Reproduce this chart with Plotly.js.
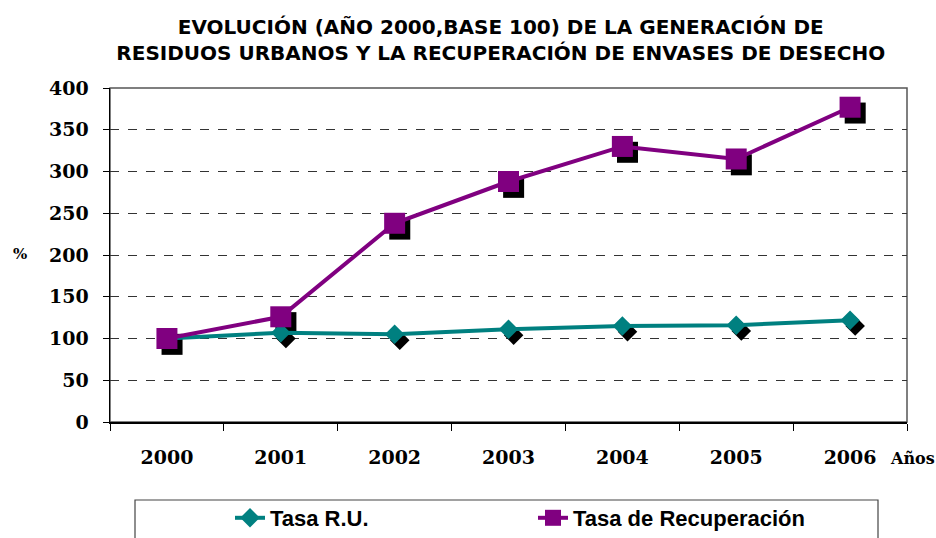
<!DOCTYPE html>
<html><head><meta charset="utf-8">
<script src="https://cdn.plot.ly/plotly-3.0.1.min.js"></script>
<style>body{margin:0;background:#fff}#c{width:936px;height:538px}</style>
</head><body><div id="c"></div>
<script>
const years = ['2000','2001','2002','2003','2004','2005','2006'];
const tasaRU = [100, 107, 105, 111, 115, 116, 122];
const tasaRecuperacion = [100, 126, 238, 288, 330, 315, 377];
const yTicks = [0, 50, 100, 150, 200, 250, 300, 350, 400];

const purple = '#800080', teal = '#008080';
// shadow offset: shadows live on the (hidden) base axes with shifted ranges,
// the visible series on the overlaying axes drawn above them
const dx = 0.045, dy = 7;

const traces = [
  {x: years, y: tasaRecuperacion, xaxis:'x', yaxis:'y', mode:'markers', showlegend:false, hoverinfo:'skip',
   marker:{symbol:'square', size:21, color:'#000'}},
  {x: years, y: tasaRU, xaxis:'x', yaxis:'y', mode:'markers', showlegend:false, hoverinfo:'skip',
   marker:{symbol:'diamond', size:15, color:'#000'}},
  {x: years, y: tasaRU, name:'Tasa R.U.', mode:'lines+markers', xaxis:'x2', yaxis:'y2',
   line:{color:teal, width:4}, marker:{symbol:'diamond', size:15, color:teal}},
  {x: years, y: tasaRecuperacion, name:'Tasa de Recuperación', mode:'lines+markers', xaxis:'x2', yaxis:'y2',
   line:{color:purple, width:4}, marker:{symbol:'square', size:21, color:purple}}
];

const px2x = 797, px2y = 334;
const tickFont = {family:'DejaVu Serif, serif', size:19, color:'#000', weight:'bold'};
const layout = {
  width:936, height:538,
  margin:{l:110, r:29, t:88, b:116, autoexpand:false},
  paper_bgcolor:'#fff', plot_bgcolor:'#fff',
  showlegend:true,
  title:{text:'EVOLUCIÓN (AÑO 2000,BASE 100) DE LA GENERACIÓN DE<br>RESIDUOS URBANOS Y LA RECUPERACIÓN DE ENVASES DE DESECHO',
    font:{family:'DejaVu Sans, sans-serif', size:20, color:'#000', weight:'bold'},
    xref:'container', yref:'container', x:0.535, xanchor:'center', y:1-34/538, yanchor:'middle'},
  xaxis:{type:'category', range:[-0.5-dx, 6.5-dx], visible:false},
  yaxis:{range:[dy, 400+dy], visible:false},
  xaxis2:{type:'category', overlaying:'x', anchor:'y2', range:[-0.5,6.5], showgrid:false, zeroline:false,
    showline:true, linecolor:'#000', linewidth:1.5, ticks:'outside', ticklen:7, tickcolor:'#000',
    tickson:'boundaries', ticklabelstandoff:18, tickfont:tickFont},
  yaxis2:{overlaying:'y', anchor:'x2', side:'left', range:[0,400], tickvals:yTicks, showgrid:true, gridcolor:'#333', griddash:'dash', gridwidth:1,
    zeroline:false, showline:true, linecolor:'#000', linewidth:1.5, ticks:'outside', ticklen:6, tickcolor:'#000',
    ticklabelstandoff:10, tickfont:tickFont},
  legend:{orientation:'h', x:(230-110)/px2x, xanchor:'left', y:-(497-422)/px2y, yanchor:'top', entrywidth:258,
    bgcolor:'rgba(0,0,0,0)', borderwidth:0,
    font:{family:'Liberation Sans, sans-serif', size:22, color:'#000', weight:'bold'}},
  shapes:[
    {type:'rect', xref:'paper', yref:'paper', x0:0, x1:1, y0:0, y1:1, line:{color:'#555', width:1.5}, layer:'below'},
    {type:'rect', xref:'paper', yref:'paper', x0:(135-110)/px2x, x1:(878-110)/px2x, y0:-(500-422)/px2y, y1:-0.5,
     line:{color:'#444', width:1.2}, fillcolor:'rgba(0,0,0,0)'}
  ],
  annotations:[
    {text:'%', xref:'paper', yref:'paper', x:-(110-20)/px2x, y:(422-254)/px2y, xanchor:'center', yanchor:'middle', showarrow:false,
     font:{family:'DejaVu Serif, serif', size:15, color:'#000', weight:'bold'}},
    {text:'Años', xref:'paper', yref:'paper', x:(888-110)/px2x, y:-(458-422)/px2y, xanchor:'left', yanchor:'middle', showarrow:false,
     font:{family:'DejaVu Serif, serif', size:16, color:'#000', weight:'bold'}}
  ]
};
Plotly.newPlot('c', traces, layout, {displayModeBar:false, staticPlot:true});
</script></body></html>
